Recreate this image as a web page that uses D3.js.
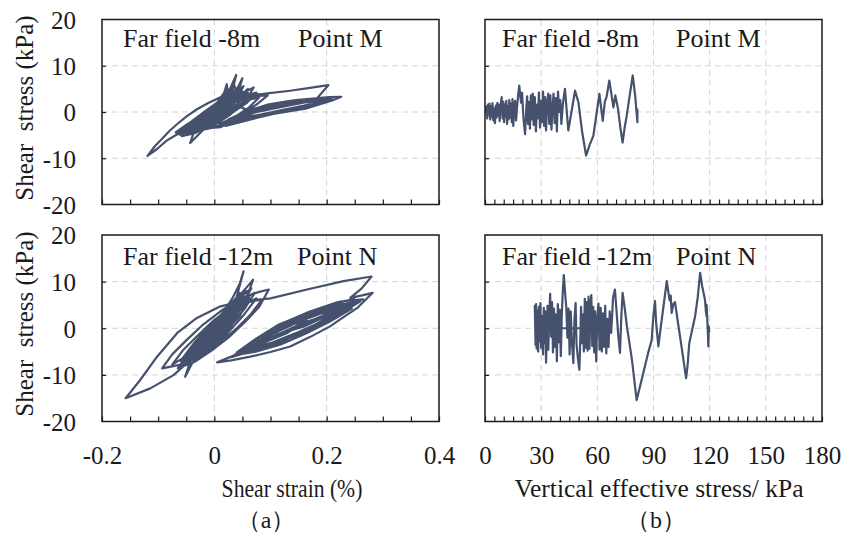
<!DOCTYPE html>
<html><head><meta charset="utf-8">
<script src="https://cdn.jsdelivr.net/npm/d3@7"></script>
<style>
html,body{margin:0;padding:0;background:#fff;}
svg{display:block;}
svg text{font-family:"Liberation Serif","Times New Roman",serif;}
</style></head><body>
<svg id="chart" width="845" height="535"></svg>
<script>
// Axis ticks
const stressTicks = [-20, -10, 0, 10, 20];
const strainTicks = [-0.2, 0, 0.2, 0.4];
const sigmaTicks = [0, 30, 60, 90, 120, 150, 180];

// Panel titles
const labelsM = ["Far field -8m", "Point M"];
const labelsN = ["Far field -12m", "Point N"];

// Point M: shear strain (%) vs shear stress (kPa)
const loopM = [
  [0,0],[0.01,1.4],[0.02,3],[0.006,0.6],[-0.008,-1.4],[-0.022,-3],[-0.008,-1],[0.01,1.6],[0.025,4.2],[0.039,8],
  [0.03,3.6],[0.014,0.6],[-0.008,-2],[-0.028,-3.6],[-0.045,-4.4],[-0.026,-1.8],[0,0.8],[0.022,3],[0.04,4.8],[0.05,7.3],
  [0.04,3.2],[0.02,0.2],[0,-2.2],[-0.02,-3.9],[-0.043,-6.7],[-0.034,-3.6],[-0.014,-1.2],[0.012,1.6],[0.036,3.5],[0.056,4.4],
  [0.07,5.3],[0.056,2.4],[0.032,0],[0.01,-1.8],[-0.02,-3.4],[-0.048,-4.4],[-0.069,-4.4],[-0.05,-2.8],[-0.024,-0.8],[0,1.4],
  [0.015,3.1],[0.022,6],[0.026,3],[0.016,0.4],[-0.004,-2.4],[-0.03,-4],[-0.056,-5],[-0.04,-3.1],[-0.015,-1],[0.01,1.2],
  [0.028,4],[0.034,6.3],[0.042,3.2],[0.06,2.6],[0.08,3.2],[0.062,1],[0.04,-0.8],[0.02,-2.4],[0,-3.2],[-0.03,-4.2],
  [-0.062,-4.9],[-0.042,-3],[-0.02,-1.4],[0.008,0.8],[0.03,2.6],[0.045,5.2],[0.05,2.8],[0.07,3.4],[0.095,3.6],[0.075,1.6],
  [0.05,-0.2],[0.025,-2],[0.004,-3.2],[-0.02,-3.8],[-0.045,-4.4],[-0.025,-2.6],[0,-0.8],[0.02,1.2],[0.04,2.6],[0.06,4.1],
  [0.048,1.8],[0.025,-0.4],[0,-2.6],[-0.025,-3.6],[-0.005,-1.6],[0.018,0.4],[0.032,2.2],
  [0.045,3.4],[0.06,5],[0.045,2.2],[0.025,0],[0.005,-2],[-0.015,-3.4],[-0.035,-4.6],[-0.058,-5.2],[-0.04,-3.6],[-0.02,-2],
  [0,-0.2],[0.02,1.6],[0.035,3.2],[0.05,4.4],[0.035,1.8],[0.015,-0.4],[-0.005,-2.6],[-0.025,-3.8],[-0.05,-4],[-0.03,-2.4],
  [-0.012,-0.6],[0.01,1.4],[0.03,3.4],[0.045,4.6],[0.03,1.4],[0.01,-1],[-0.012,-3],[-0.035,-4.2],[-0.015,-2.2],[0.005,-0.2],
  [0.025,2],[0.042,3.8],[0.03,1],[0.01,-1.4],[-0.01,-2.8],[-0.03,-3.6],[-0.06,-4.2],[-0.04,-2],[-0.018,0],[0.005,2],
  [0.02,4.6],[0.03,2],
  [0.04,3.8],[0.025,1.2],[0.008,-1],[-0.012,-2.6],[-0.032,-3.8],[-0.052,-4.6],[-0.035,-2.8],[-0.015,-0.8],[0.005,1.2],[0.022,2.8],
  [0.038,4.2],[0.052,5.6],[0.04,2.8],[0.022,0.6],[0.004,-1.6],[-0.016,-3.2],[-0.036,-4.4],[-0.022,-2.6],[-0.004,-0.4],[0.014,1.8],
  [0.03,3.8],[0.044,5.6],[0.034,2.4],[0.016,0],[-0.004,-2],[-0.024,-3.4],[-0.046,-4.2],[-0.066,-4.6],[-0.046,-3],[-0.026,-1.2],
  [-0.006,0.8],[0.012,2.6],[0.026,4.8],[0.02,2],[0.004,-0.4],[-0.016,-2.4],[-0.036,-3.8],[-0.02,-2.6],[0,-1],[0.02,0.8],
  [0.042,2.4],[0.064,3.6],[0.046,1.2],[0.026,-0.8],[0.006,-2.4],[-0.018,-3.6],[-0.04,-4.8],[-0.024,-3.4],[-0.006,-1.6],[0.014,0.4],
  [0.034,2.2],[0.054,3.4],[0.075,4.2],[0.058,2],[0.036,0.2],[0.016,-1.6],[-0.004,-3],[-0.026,-4],[-0.01,-2.2],[0.012,-0.2],
  [0.03,1.8],
  [0.06,0.4],[0.1,1.2],[0.14,2],[0.17,2.6],[0.135,2.2],[0.09,1.2],[0.05,-0.4],[0.02,-2.4],[0.05,-1.6],[0.09,-0.6],
  [0.135,0.2],[0.17,1.2],[0.205,2.8],[0.17,2.4],[0.135,1.9],[0.09,1],[0.05,-0.6],[0.015,-2.8],[0.05,-1.8],[0.09,-0.8],
  [0.13,0.4],[0.17,1.6],[0.195,2.6],[0.165,2.6],[0.125,1.8],[0.085,0.8],[0.045,-1],[0.011,-3.3],
  [-0.02,-3.6],[-0.043,-3.9],[-0.066,-4.8],[-0.085,-6.2],[-0.102,-8],[-0.119,-9.5],
  [-0.106,-7.4],[-0.093,-5.8],[-0.08,-4.1],[-0.066,-2.6],[-0.05,-1],[-0.031,0.6],[-0.01,2],[0.011,3.2],[0.04,3.5],[0.087,3.9],
  [0.135,4.6],[0.17,5.2],[0.203,5.8],[0.183,3.0],[0.205,3.2],[0.226,3.3],
  [0.21,2.5],[0.194,1.9],[0.165,0.8],[0.135,0.2],[0.105,-0.4],[0.075,-1.3],[0.046,-2.2],[0.02,-3],
  [0.05,-1.5],[0.09,-0.4],[0.13,0.2],[0.165,1.2],[0.2,2.4],[0.17,2.8],[0.135,2.4],[0.095,1.6],[0.06,0.2],[0.03,-1.8],
  [0.06,-1.2],[0.1,-0.2],[0.14,0.6],[0.18,1.8],[0.21,3],[0.18,2.8],[0.14,2.2],[0.1,1.4],[0.065,0.2],[0.035,-1.6],
  [0.07,-0.8],[0.11,0],[0.15,0.8],[0.185,2],[0.16,2.2],[0.12,1.6],[0.08,0.8],[0.04,-0.8],[0.01,-2.6],
  [0.06,-0.4],[0.1,0.6],[0.14,1.6],[0.175,2.4],[0.14,2],[0.1,1],[0.06,-0.6],[0.03,-2.2],[0.07,-1],[0.11,0],
  [0.15,1],[0.19,2.2],[0.16,2.6],[0.12,1.8],[0.08,0.6],[0.045,-1.4],[0.08,-0.6],[0.12,0.4],[0.16,1.4],[0.2,2.6],
  [0.175,2.8],[0.14,2.4],[0.1,1.6],[0.06,0.4],[0.025,-1.6],[0.065,-1.4],[0.105,-0.4],[0.145,0.8],[0.18,1.6],[0.21,2.8],
  [0.185,3],[0.145,2.6],[0.105,1.8],[0.07,0.6],[0.04,-1.2]
];

// Point N: shear strain (%) vs shear stress (kPa)
const loopN = [
  [0,0],[0.012,2.4],[0.025,5.2],[0.008,1.2],[-0.012,-2.6],[-0.028,-5],[-0.01,-1.6],[0.012,2.6],[0.032,6.4],[0.045,9.5],
  [0.052,12.2],[0.04,6.8],[0.022,2.4],[0,-1.8],[-0.025,-5.4],[-0.04,-7.6],[-0.052,-10.4],[-0.042,-6.8],[-0.022,-2.8],[0.002,1],
  [0.03,5],[0.055,8.4],[0.069,10.4],[0.055,5.6],[0.03,1.4],[0.005,-2.6],[-0.025,-6],[-0.06,-7.8],[-0.093,-8.6],[-0.075,-5.6],
  [-0.05,-2.6],[-0.02,0.8],[0.015,4],[0.05,6.6],[0.08,7.8],[0.097,8.3],[0.08,4.6],[0.055,1.4],[0.025,-2],[-0.005,-4.8],
  [-0.035,-7.2],[-0.065,-8.6],[-0.045,-5.2],[-0.02,-2],[0.01,1.6],[0.04,4.6],[0.062,6.6],[0.045,2.6],[0.02,-0.6],[-0.01,-3.8],
  [-0.04,-6.4],[-0.06,-7],[-0.04,-3.8],[-0.015,-0.8],[0.015,2.8],[0.038,5.8],[0.045,7.6],[0.035,3.2],[0.01,-0.4],[-0.02,-3.6],
  [-0.045,-5.6],[-0.075,-7.8],[-0.055,-4.6],[-0.03,-1.6],[0,1.8],[0.03,4.4],[0.06,5.6],[0.085,6.2],[0.065,3],[0.04,0],
  [0.01,-3],[-0.02,-5.2],[-0.05,-6.8],[-0.03,-3.8],[-0.005,-0.6],[0.025,2.6],[0.05,4.6],[0.03,1.2],[0.005,-2.2],[-0.025,-4.6],
  [-0.045,-5],[-0.02,-2],[0.01,1.4],[0.04,4.2],
  [0.05,4.6],[0.03,1.6],[0.01,-1.2],[-0.015,-4],[-0.035,-6.2],[-0.015,-3],[0.01,0.6],[0.03,3.6],[0.05,6.2],[0.03,2.2],
  [0.005,-1.4],[-0.02,-4.4],[-0.04,-6.8],[-0.02,-3.4],[0.005,0],[0.025,2.8],[0.045,5],[0.06,7.4],[0.04,3.4],[0.015,0],
  [-0.01,-3.2],[-0.03,-5.2],[-0.05,-5.8],[-0.03,-2.4],[-0.01,0.6],[0.02,3.6],[0.035,4.8],[0.015,1.6],[-0.005,-1.6],[-0.03,-4],
  [-0.055,-6.4],[-0.035,-3],[-0.01,0.2],[0.015,3],[0.03,6],[0.02,2],[0,-1],[-0.02,-3.6],[-0.045,-5.4],[-0.025,-2.2],
  [0,1],[0.025,4],[0.04,5.4],[0.02,1.2],[-0.005,-2.2],[-0.028,-4.8],[-0.01,-1.8],[0.012,1.8],[0.03,4.2],
  [0.035,4],[0.018,1],[0,-2],[-0.02,-4.6],[-0.04,-6],[-0.058,-7.2],[-0.04,-4.4],[-0.02,-1.6],[0,1.4],[0.02,4],
  [0.038,6.4],[0.056,8],[0.04,4.6],[0.02,1.2],[0,-2.4],[-0.022,-5],[-0.046,-6.6],[-0.03,-4],[-0.01,-1],[0.012,2.2],
  [0.03,5],[0.048,6.8],[0.066,8.6],[0.05,5.2],[0.03,2],[0.01,-1.2],[-0.012,-4],[-0.034,-6.2],[-0.06,-8],[-0.04,-5.2],
  [-0.018,-2.2],[0.004,0.8],[0.024,3.6],[0.044,5.8],[0.03,2.8],[0.012,-0.2],[-0.008,-3],[-0.028,-5.4],[-0.05,-7],[-0.032,-4.8],
  [-0.012,-2],[0.008,1.2],[0.028,3.8],[0.05,6.2],[0.072,7.6],[0.055,4.4],[0.035,1.4],[0.015,-1.8],[-0.006,-4.4],[-0.026,-6.4],
  [-0.01,-3.6],[0.01,-0.6],[0.03,2.6],[0.05,5],[0.075,6.4],
  [0.05,2.5],[0.02,-1.5],[-0.01,-4.5],[-0.049,-7.5],[-0.072,-10],[-0.114,-12.9],[-0.158,-15],
  [-0.132,-11.1],[-0.102,-6.1],[-0.066,-1],[-0.031,2.2],[0.011,4.7],[0.05,5.8],[0.1,6.4],[0.165,8.3],[0.23,10.1],[0.28,11.1],
  [0.262,8.5],[0.242,6.5],[0.265,7.1],[0.282,7.6],
  [0.254,4.3],[0.23,2.4],[0.206,0.4],[0.17,-1.9],[0.135,-3.9],[0.1,-5.1],[0.064,-6.1],[0.03,-6.9],[0.005,-7.3],
  [0.04,-5.6],[0.08,-4.4],[0.13,-2.2],[0.18,0.6],[0.22,3],[0.25,5.4],[0.21,4.6],[0.16,2.6],[0.11,0],[0.07,-3],
  [0.035,-6],[0.075,-4.6],[0.125,-2.6],[0.175,0.2],[0.215,2.6],[0.245,4.8],[0.205,4.2],[0.155,2.2],[0.105,-0.4],[0.065,-3.4],
  [0.045,-5.6],[0.09,-4],[0.14,-1.8],[0.19,1],[0.23,3.6],[0.26,5.8],[0.22,5],[0.17,3],[0.12,0.6],[0.08,-2.4],
  [0.05,-5.2],[0.1,-3.6],[0.15,-1.2],[0.195,1.4],[0.235,4],[0.2,3.8],[0.15,1.8],[0.1,-0.8],[0.06,-3.8],[0.03,-6.2],
  [0.07,-4.8],[0.12,-2.8],[0.165,-0.2],[0.21,2.4],[0.24,4.4],[0.21,4.8],[0.165,3],[0.115,0.4],[0.075,-2.6],[0.04,-5.4],
  [0.085,-4.2],[0.135,-2],[0.18,0.8],[0.22,3.4],[0.19,3.2],[0.14,1.2],[0.095,-1.4],[0.055,-4.4],[0.09,-3],[0.13,-1],
  [0.165,1.6],[0.13,0.6],[0.09,-1.8],[0.06,-4],
  [0.04,-5.8],[0.085,-4.6],[0.135,-2.6],[0.185,0.4],[0.225,3.2],[0.255,5.6],[0.215,5],[0.165,3.2],[0.115,0.8],[0.075,-2.2],
  [0.04,-5.2],[0.08,-4.2],[0.13,-2],[0.18,0.8],[0.22,3.6],[0.25,6.2],[0.22,5.6],[0.17,3.6],[0.12,1],[0.08,-2],
  [0.045,-4.8],[0.09,-3.8],[0.14,-1.4],[0.185,1],[0.225,3.8],[0.265,6.2],[0.23,5.8],[0.18,3.8],[0.13,1.4],[0.09,-1.4],
  [0.055,-4.4],[0.1,-3.2],[0.15,-0.8],[0.195,1.6],[0.24,4.6],[0.21,4.4],[0.16,2.6],[0.11,0.2],[0.07,-2.8],[0.035,-5.8],
  [0.075,-5],[0.12,-3.4],[0.165,-1],[0.205,1.4],[0.245,4.2],[0.2,3.6],[0.15,1.4],[0.105,-1.2],[0.065,-3.8],[0.1,-2.4],
  [0.05,-4.8],[0.1,-2],[0.15,0.6],[0.2,3],[0.25,5.4],[0.2,2.6],[0.15,0.2],[0.1,-2.4],[0.055,-4.6],[0.105,-1.8],
  [0.155,1],[0.21,3.2],[0.16,0.4],[0.11,-1.4],[0.14,-0.2],[0.12,-1.4]
];

// Point M: vertical effective stress (kPa) vs shear stress (kPa)
const pathM = [
  [0.5,0],[0.8,1.2],[1.2,-1.4],[1.6,1.6],[2,-0.6],[2.4,1.8],[2.8,-1.6],[3.2,1.2],[3.6,-1],[4,1.9],
  [4.4,-1.8],[4.8,0.8],[5.3,-2.4],[5.8,1.4],[6.2,-1.2],[6.6,2],[7,-0.8],[7.4,1.6],[7.8,-2],[8.3,1.2],
  [8.9,3.2],[9.4,-1.4],[9.8,2.2],[10.2,-2.2],[10.6,1.6],[11,-1],[11.4,2.4],[11.8,-2.6],[12.2,1.2],[12.6,-1.6],
  [13,2.6],[13.4,-1.2],[13.8,1.8],[14.3,-2.2],[14.7,2.8],[15.1,-3],[15.6,0.6],[16.1,2.4],[16.6,-1.8],[17.2,1.4],
  [17.8,4],[18.3,5.7],[18.8,3.6],[19.3,2],[19.8,4.2],[20.5,-1.2],[21.4,-4.8],[22,0.4],[22.5,3.4],[23,-2.6],
  [23.5,2.2],[24,-3.6],[24.5,3.6],[25,-1.6],[25.5,4],[26,-2.8],[26.6,3.2],[27.2,-4.2],[27.7,1.6],[28.2,-1.4],
  [28.8,4.2],[29.4,-3.4],[29.9,2.4],[30.4,-2.2],[31,4.4],[31.6,-3],[32.1,3.2],[32.6,-4],[33.2,2],[33.8,4],
  [34.3,-2.6],[34.9,3.6],[35.5,-3.8],[36,0.6],[36.6,4],[37.2,-2.4],[37.8,3],[38.4,-4.2],[39,4.4],[39.6,0],
  [40.2,2.6],[40.8,-2.6],[41.6,1.8],[42.7,5],[44.5,-4],[48.1,4.6],[49.9,2.1],[52,-4.6],[54,-9.4],[56,-7],
  [57.9,-5.1],[59.5,-0.6],[61.1,3.9],[62.9,-1.9],[64,2.2],[65,3.4],[66.4,6.8],[67.4,4.2],[68.6,1],[69.6,3.6],
  [71,0.8],[72.3,-3.4],[73.5,-6.6],[74.5,-3.6],[75.7,-0.8],[77.3,3.6],[78.9,7.9],[80.2,3.6],[81.4,-2.2],[81.4,0.5]
];

// Point N: vertical effective stress (kPa) vs shear stress (kPa)
const pathN = [
  [57.5,0],[27,0],[26.6,4.8],[27,-3.6],[27.3,5.2],[27.6,-4.4],[28,3.8],[28.4,-5],[28.8,4.6],[29.2,-2.8],
  [29.6,5.4],[30,-4.2],[30.5,2.6],[31,-5.6],[31.4,4.4],[31.8,-3.2],[32.2,3.6],[32.6,-7.4],[33,-2],[33.4,4.8],
  [33.8,-4.6],[34.3,2.8],[34.8,7.4],[35.3,-1.8],[35.8,5.6],[36.3,-5.2],[36.8,4.2],[37.3,-4],[37.8,3],[38.4,-7.1],
  [38.9,5.2],[39.4,-3],[39.9,4],[40.5,-6],[41,2.6],[41.6,8.4],[42.1,11.4],[42.7,8],[43.4,4.6],[44,-2],
  [44.6,4.2],[45.2,-5.6],[45.8,3.6],[46.4,-2.8],[47.2,-7.5],[47.8,2],[48.4,5.4],[48.9,-3.4],[49.6,-6.4],[50.4,-8.9],
  [50.9,-2.4],[51.3,4.6],[51.8,-3.2],[52.3,3],[52.8,-5],[53.3,6.3],[53.8,-4.2],[54.3,5.6],[54.8,-4.8],[55.3,6.8],
  [55.8,-4.4],[56.3,5.2],[56.8,7.1],[57.3,-3.8],[57.8,4.6],[58.3,-5.2],[58.8,3.6],[59.4,-7.1],[60,2.4],[60.6,5.3],
  [61.2,-4.6],[61.8,4.4],[62.4,-5],[63,3.2],[63.6,-4],[64.2,4.8],[64.8,-5.4],[65.4,2],[66,-4],[66.6,3.6],
  [67.4,-1],[68.4,6.6],[69.4,8.3],[70.2,4],[71.2,-1.6],[72.1,-5.3],[72.8,2.4],[73.5,7.6],[74.6,4.4],[75.8,0.4],
  [78.5,-6.8],[81,-15.4],[84,-10.5],[87,-5.5],[89,-2.6],[90,3],[90.8,5.8],[91.4,1.2],[92.6,-3.9],[94,0.6],
  [95.5,5.2],[97.1,10.1],[98,7.6],[98.6,6],[99.2,7],[99.7,3.3],[100.6,5.2],[101.5,5.6],[103,1.4],[105,-4],
  [107.4,-10.7],[108.2,-8],[109.1,-3.2],[110.5,-0.6],[112.2,2.5],[113.6,6.6],[114.9,11.9],[116,9],[117.5,6.1],[118,3.5],
  [118.4,2.5],[118.4,5],[119,-0.5],[119.3,-3.9],[119.5,0.4],[119.8,-0.7]
];

const svg = d3.select("#chart");
svg.append("rect").attr("width", 845).attr("height", 535).attr("fill", "#fff");

const serif = "'Liberation Serif','Times New Roman',serif";
const inkColor = "#1a1a1a";
const lineColor = "#46526d";
const gridColor = "#d4d4d4";
const frameColor = "#1a1a1a";
const tickText = d => String(d);

function drawPanel(cfg) {
  const { x0, y0, w, h, xDomain, xTicks, minorStep, data, titles, titleX, titleY, yLabels, xLabels } = cfg;
  const g = svg.append("g");
  const x = d3.scaleLinear().domain(xDomain).range([x0, x0 + w]);
  const y = d3.scaleLinear().domain([-20, 20]).range([y0 + h, y0]);

  // dashed grid
  g.append("g").selectAll("line").data(stressTicks.slice(1, -1)).join("line")
    .attr("x1", x0).attr("x2", x0 + w).attr("y1", d => y(d)).attr("y2", d => y(d))
    .attr("stroke", gridColor).attr("stroke-width", 1).attr("stroke-dasharray", "6,4");
  g.append("g").selectAll("line").data(xTicks.slice(1, -1)).join("line")
    .attr("x1", d => x(d)).attr("x2", d => x(d)).attr("y1", y0).attr("y2", y0 + h)
    .attr("stroke", gridColor).attr("stroke-width", 1).attr("stroke-dasharray", "6,4");

  // inner minor ticks along the bottom
  const minor = d3.range(xDomain[0], xDomain[1] + minorStep / 2, minorStep);
  g.append("g").attr("transform", `translate(0,${y0 + h})`)
    .call(d3.axisBottom(x).tickValues(minor).tickSize(-5).tickFormat(""))
    .call(a => a.select(".domain").remove())
    .call(a => a.selectAll(".tick line").attr("stroke", frameColor).attr("stroke-width", 1.2));

  // inner ticks on the left edge
  g.append("g").attr("transform", `translate(${x0},0)`)
    .call(d3.axisLeft(y).tickValues(stressTicks.slice(1, -1)).tickSize(-4).tickFormat(""))
    .call(a => a.select(".domain").remove())
    .call(a => a.selectAll(".tick line").attr("stroke", frameColor).attr("stroke-width", 1.2));

  // data trace
  const line = d3.line().x(d => x(d[0])).y(d => y(d[1]));
  g.append("path").datum(data).attr("d", line)
    .attr("fill", "none").attr("stroke", lineColor).attr("stroke-width", 2.2)
    .attr("stroke-linejoin", "round").attr("stroke-linecap", "round");

  // frame
  g.append("rect").attr("x", x0).attr("y", y0).attr("width", w).attr("height", h)
    .attr("fill", "none").attr("stroke", frameColor).attr("stroke-width", 1.5);

  // panel titles
  titles.forEach((t, i) => {
    g.append("text").attr("x", titleX[i]).attr("y", titleY)
      .style("font-family", serif).style("font-size", "26px").attr("fill", inkColor).text(t);
  });

  if (yLabels) {
    g.append("g").attr("transform", `translate(${x0 - 23},0)`)
      .call(d3.axisLeft(y).tickValues(stressTicks).tickSize(0).tickFormat(tickText))
      .call(a => a.select(".domain").remove())
      .call(a => a.selectAll("text").style("font-family", serif).style("font-size", "25px")
        .attr("fill", inkColor).attr("dy", "0.35em"));
  }
  if (xLabels) {
    g.append("g").attr("transform", `translate(0,${y0 + h + 22})`)
      .call(d3.axisBottom(x).tickValues(xTicks).tickSize(0).tickFormat(xLabels))
      .call(a => a.select(".domain").remove())
      .call(a => a.selectAll("text").style("font-family", serif).style("font-size", "25px")
        .attr("fill", inkColor).attr("dy", "0.71em"));
  }
  return g;
}

drawPanel({ x0: 102, y0: 19.5, w: 337, h: 185, xDomain: [-0.2, 0.4], xTicks: strainTicks, minorStep: 0.05,
  data: loopM, titles: labelsM, titleX: [123, 298], titleY: 47, yLabels: true, xLabels: null });
drawPanel({ x0: 485, y0: 19.5, w: 337, h: 185, xDomain: [0, 180], xTicks: sigmaTicks, minorStep: 5,
  data: pathM, titles: labelsM, titleX: [502, 676], titleY: 47, yLabels: false, xLabels: null });
drawPanel({ x0: 102, y0: 235, w: 337, h: 186.5, xDomain: [-0.2, 0.4], xTicks: strainTicks, minorStep: 0.05,
  data: loopN, titles: labelsN, titleX: [123, 297], titleY: 264.5, yLabels: true, xLabels: tickText });
drawPanel({ x0: 485, y0: 235, w: 337, h: 186.5, xDomain: [0, 180], xTicks: sigmaTicks, minorStep: 5,
  data: pathN, titles: labelsN, titleX: [502, 676], titleY: 264.5, yLabels: false, xLabels: tickText });

// axis titles
function title(x, y, size, txt, rotate, sx) {
  const tr = rotate ? `translate(${x},${y}) rotate(-90)` : `translate(${x},${y}) scale(${sx || 1},1)`;
  svg.append("text").attr("transform", tr)
    .attr("text-anchor", "middle").attr("xml:space", "preserve")
    .style("font-family", serif).style("font-size", size + "px").attr("fill", inkColor).text(txt);
}
title(33, 108, 25, "Shear  stress (kPa)", true);
title(33, 324, 25, "Shear  stress (kPa)", true);
title(292, 497, 25.5, "Shear strain (%)", false, 0.85);
title(659, 497, 25.5, "Vertical effective stress/ kPa");
title(266, 528, 24, "（a）");
title(656, 528, 24, "（b）");
</script>
</body></html>
